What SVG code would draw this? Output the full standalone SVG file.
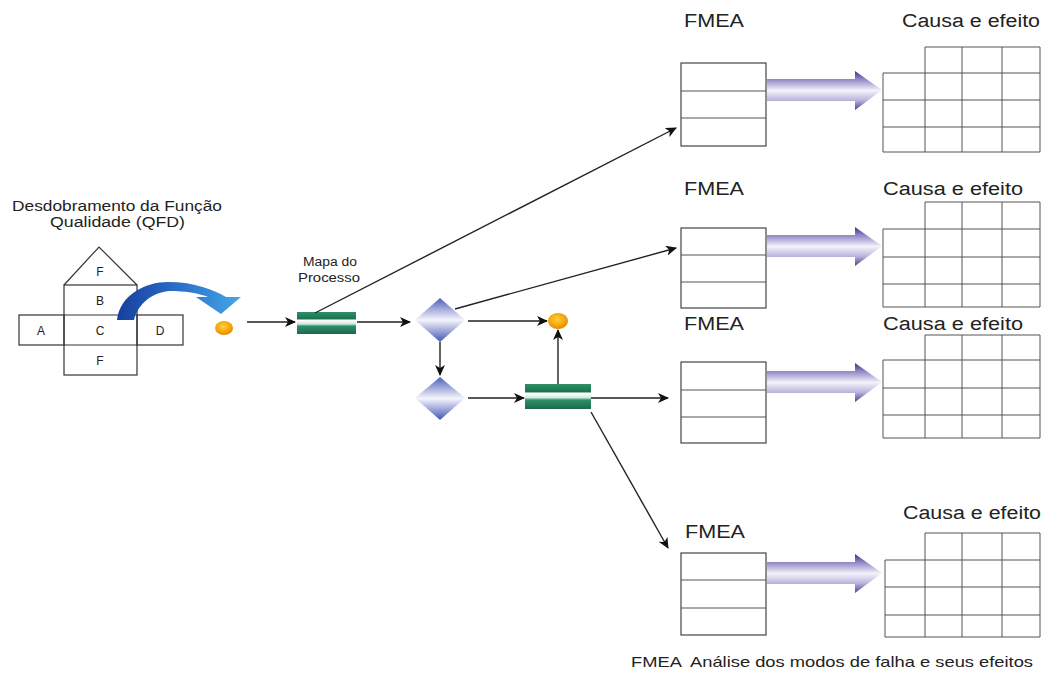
<svg xmlns="http://www.w3.org/2000/svg" width="1045" height="682" viewBox="0 0 1045 682">
<defs>
<style>
.t{font-family:"Liberation Sans",Arial,sans-serif;fill:#222}
.big{font-size:18px}
.sm{font-size:12px}
.ln{fill:none;stroke:#333;stroke-width:1.2}
.gr{fill:none;stroke:#555;stroke-width:1}
.bx{fill:#fff;stroke:#444;stroke-width:1.2}
.con{fill:none;stroke:#222;stroke-width:1.4;marker-end:url(#ah)}
.fat{fill:url(#pg)}
.proc{fill:url(#gg)}
.dia{fill:url(#dg)}
.dot{fill:url(#og)}
</style>
<marker id="ah" markerUnits="userSpaceOnUse" markerWidth="11" markerHeight="10" refX="10" refY="5" orient="auto">
<path d="M0,0 L11,5 L0,10 L3,5 z" fill="#111"/>
</marker>
<linearGradient id="pg" x1="0" y1="0" x2="0" y2="1">
<stop offset="0" stop-color="#3f3480"/>
<stop offset="0.2" stop-color="#8c82c4"/>
<stop offset="0.5" stop-color="#f4f2fb"/>
<stop offset="0.75" stop-color="#bdb4dc"/>
<stop offset="1" stop-color="#4e4192"/>
</linearGradient>
<linearGradient id="gg" x1="0" y1="0" x2="0" y2="1">
<stop offset="0" stop-color="#2f8f68"/>
<stop offset="0.3" stop-color="#1c744f"/>
<stop offset="0.38" stop-color="#ffffff"/>
<stop offset="0.55" stop-color="#cfe8dc"/>
<stop offset="0.64" stop-color="#2f8f68"/>
<stop offset="1" stop-color="#1b6a48"/>
</linearGradient>
<linearGradient id="dg" x1="0" y1="0" x2="0" y2="1">
<stop offset="0" stop-color="#4e5fb8"/>
<stop offset="0.5" stop-color="#f5f5fd"/>
<stop offset="1" stop-color="#4456b2"/>
</linearGradient>
<radialGradient id="og" cx="0.45" cy="0.4" r="0.6">
<stop offset="0" stop-color="#ffd23a"/>
<stop offset="0.7" stop-color="#f3a10c"/>
<stop offset="1" stop-color="#e08a00"/>
</radialGradient>
<linearGradient id="bg" x1="0" y1="0" x2="1" y2="0">
<stop offset="0" stop-color="#173f9e"/>
<stop offset="0.5" stop-color="#2b6fc8"/>
<stop offset="1" stop-color="#45a8e6"/>
</linearGradient>
</defs>
<rect width="1045" height="682" fill="#fff"/>

<g id="qfd">
<text class="t" font-size="14" x="12" y="211" textLength="210" lengthAdjust="spacingAndGlyphs">Desdobramento da Função</text>
<text class="t" font-size="14" x="50" y="227" textLength="135" lengthAdjust="spacingAndGlyphs">Qualidade (QFD)</text>
<path class="ln" d="M64,285 L99,247 L137,285"/>
<rect class="ln" x="64" y="285" width="73" height="90"/>
<line class="ln" x1="64" y1="315" x2="137" y2="315"/>
<line class="ln" x1="64" y1="345" x2="137" y2="345"/>
<rect class="ln" x="19" y="315" width="45" height="30"/>
<rect class="ln" x="137" y="315" width="46" height="30"/>
<text class="t sm" x="100" y="276" text-anchor="middle">F</text>
<text class="t sm" x="100" y="305" text-anchor="middle">B</text>
<text class="t sm" x="41" y="335" text-anchor="middle">A</text>
<text class="t sm" x="100" y="335" text-anchor="middle">C</text>
<text class="t sm" x="160" y="335" text-anchor="middle">D</text>
<text class="t sm" x="100" y="365" text-anchor="middle">F</text>
<path fill="url(#bg)" d="M117,320 C120,295 145,282 168,282 C195,282 214,290 226,297 L241,297 L221,314 L196,297 L208,297 C198,293 185,291 170,291 C152,292 138,304 134,320 Z"/>
</g>

<g id="start"><ellipse class="dot" cx="224" cy="328" rx="9" ry="7"/></g>

<g id="mapa">
<text class="t sm" x="303" y="266" textLength="54" lengthAdjust="spacingAndGlyphs">Mapa do</text>
<text class="t sm" x="298" y="282" textLength="62" lengthAdjust="spacingAndGlyphs">Processo</text>
<rect class="proc" x="297" y="312" width="59" height="22"/>
</g>

<g id="dec1"><path class="dia" d="M440,298 L465,320 L440,342 L415,320 Z"/></g>
<g id="dec2"><path class="dia" d="M440,377 L465,398 L440,420 L415,398 Z"/></g>
<g id="end"><ellipse class="dot" cx="558" cy="321" rx="10" ry="8"/></g>
<g id="proc2"><rect class="proc" x="525" y="384" width="66" height="25"/></g>

<g id="connectors">
<line class="con" x1="247" y1="322" x2="295" y2="322"/>
<line class="con" x1="357" y1="322" x2="410" y2="322"/>
<line class="con" x1="315" y1="313" x2="676" y2="128"/>
<line class="con" x1="455" y1="309" x2="676" y2="248"/>
<line class="con" x1="468" y1="321" x2="547" y2="321"/>
<line class="con" x1="440" y1="342" x2="440" y2="375"/>
<line class="con" x1="468" y1="398" x2="524" y2="398"/>
<line class="con" x1="558" y1="384" x2="558" y2="330"/>
<line class="con" x1="591" y1="398" x2="668" y2="398"/>
<line class="con" x1="591" y1="412" x2="668" y2="548"/>
</g>

<g id="fmea1">
<text class="t big" x="684" y="27" textLength="60" lengthAdjust="spacingAndGlyphs">FMEA</text>
<rect class="bx" x="681" y="63" width="85" height="83"/>
<line class="gr" x1="681" y1="91" x2="766" y2="91"/>
<line class="gr" x1="681" y1="118" x2="766" y2="118"/>
<path class="fat" d="M767,79 L855,79 L855,71 L882,90 L855,110 L855,101 L767,101 Z"/>
</g>
<g id="ce1">
<text class="t big" x="902" y="27" textLength="138" lengthAdjust="spacingAndGlyphs">Causa e efeito</text>
<path class="gr" d="M925,47 H1040 V152 H883 V73 H1040 M883,100 H1040 M883,127 H1040 M925,47 V152 M962,47 V152 M1002,47 V152"/>
</g>

<g id="fmea2">
<text class="t big" x="684" y="195" textLength="60" lengthAdjust="spacingAndGlyphs">FMEA</text>
<rect class="bx" x="681" y="228" width="85" height="80"/>
<line class="gr" x1="681" y1="255" x2="766" y2="255"/>
<line class="gr" x1="681" y1="282" x2="766" y2="282"/>
<path class="fat" d="M767,235 L855,235 L855,227 L882,246 L855,266 L855,257 L767,257 Z"/>
</g>
<g id="ce2">
<text class="t big" x="883" y="195" textLength="140" lengthAdjust="spacingAndGlyphs">Causa e efeito</text>
<path class="gr" d="M925,202 H1040 V307 H883 V229 H1040 M883,257 H1040 M883,284 H1040 M925,202 V307 M962,202 V307 M1002,202 V307"/>
</g>

<g id="fmea3">
<text class="t big" x="684" y="330" textLength="60" lengthAdjust="spacingAndGlyphs">FMEA</text>
<rect class="bx" x="681" y="362" width="85" height="81"/>
<line class="gr" x1="681" y1="390" x2="766" y2="390"/>
<line class="gr" x1="681" y1="417" x2="766" y2="417"/>
<path class="fat" d="M767,371 L855,371 L855,363 L882,382 L855,402 L855,393 L767,393 Z"/>
</g>
<g id="ce3">
<text class="t big" x="883" y="330" textLength="140" lengthAdjust="spacingAndGlyphs">Causa e efeito</text>
<path class="gr" d="M925,335 H1040 V438 H883 V360 H1040 M883,388 H1040 M883,415 H1040 M925,335 V438 M962,335 V438 M1002,335 V438"/>
</g>

<g id="fmea4">
<text class="t big" x="685" y="538" textLength="60" lengthAdjust="spacingAndGlyphs">FMEA</text>
<rect class="bx" x="681" y="553" width="85" height="82"/>
<line class="gr" x1="681" y1="580" x2="766" y2="580"/>
<line class="gr" x1="681" y1="608" x2="766" y2="608"/>
<path class="fat" d="M767,562 L855,562 L855,554 L882,573 L855,593 L855,584 L767,584 Z"/>
</g>
<g id="ce4">
<text class="t big" x="903" y="519" textLength="138" lengthAdjust="spacingAndGlyphs">Causa e efeito</text>
<path class="gr" d="M925,533 H1040 V637 H885 V560 H1040 M885,587 H1040 M885,615 H1040 M925,533 V637 M962,533 V637 M1002,533 V637"/>
</g>

<g id="legend">
<text class="t" font-size="15" x="631" y="667" xml:space="preserve" textLength="402" lengthAdjust="spacingAndGlyphs">FMEA  Análise dos modos de falha e seus efeitos</text>
</g>
</svg>
